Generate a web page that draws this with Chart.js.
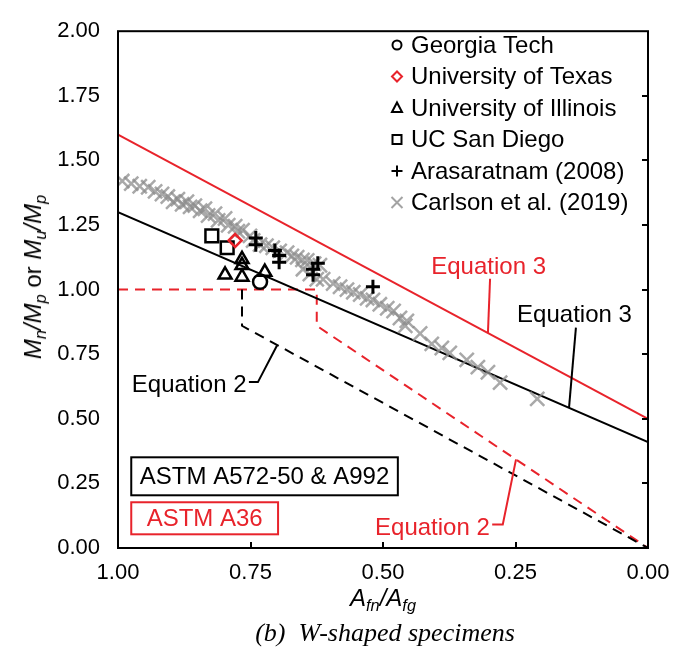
<!DOCTYPE html>
<html>
<head>
<meta charset="utf-8">
<script src="https://cdn.jsdelivr.net/npm/chart.js@4/dist/chart.umd.min.js"></script>
<style>
  html, body { margin: 0; padding: 0; background: #fff; }
  #wrap { position: relative; width: 688px; height: 658px; font-family: "Liberation Sans", Arial, sans-serif; color: #000; }
  #chart { position: absolute; left: 0; top: 0; }
  .ytitle { position: absolute; left: 33px; top: 277px; transform: translate(-50%, -50%) rotate(-90deg); font-size: 24px; white-space: nowrap; }
  .xtitle { position: absolute; left: 383px; top: 598px; transform: translate(-50%, -50%); font-size: 24px; white-space: nowrap; }
  .caption { position: absolute; left: 385px; top: 633px; transform: translate(-50%, -50%); font-family: "Liberation Serif", "Times New Roman", serif; font-style: italic; font-size: 26px; white-space: nowrap; }
  sub { font-size: 68%; vertical-align: -0.28em; line-height: 0; }
</style>
</head>
<body>
<div id="wrap">
  <canvas id="chart" width="688" height="658"></canvas>
  <div class="ytitle"><i>M<sub>n</sub>/M<sub>p</sub></i> or <i>M<sub>u</sub>/M<sub>p</sub></i></div>
  <div class="xtitle"><i>A<sub>fn</sub>/A<sub>fg</sub></i></div>
  <div class="caption">(b)&nbsp; W-shaped specimens</div>
</div>
<script>
const RED = "#e8232b";
const GRAY = "rgba(140,140,140,0.75)";

// axis ticks
const xTicks = [0, 0.25, 0.5, 0.75, 1];
const yTicks = [0, 0.25, 0.5, 0.75, 1, 1.25, 1.5, 1.75, 2];

// test data (x = Afn/Afg, y = Mn/Mp or Mu/Mp)
const georgiaX = [0.732];
const georgiaY = [1.03];
const texasX = [0.779];
const texasY = [1.19];
const illinoisX = [0.798, 0.766, 0.766, 0.766, 0.723];
const illinoisY = [1.057, 1.117, 1.094, 1.049, 1.068];
const ucsdX = [0.823, 0.794];
const ucsdY = [1.208, 1.162];
const arasX = [0.740, 0.740, 0.704, 0.696, 0.696, 0.623, 0.632, 0.632, 0.519];
const arasY = [1.20, 1.174, 1.151, 1.132, 1.106, 1.102, 1.079, 1.057, 1.011];
const carlsonX = [0.992, 0.975, 0.959, 0.943, 0.930, 0.917, 0.906, 0.896, 0.887, 0.879,
  0.870, 0.864, 0.855, 0.845, 0.836, 0.830, 0.817, 0.811, 0.798, 0.792,
  0.779, 0.774, 0.765, 0.751, 0.745, 0.732, 0.720, 0.708, 0.695, 0.681,
  0.672, 0.662, 0.652, 0.643, 0.630, 0.619, 0.651, 0.638, 0.625, 0.613,
  0.594, 0.581, 0.568, 0.556, 0.543, 0.530, 0.519, 0.506, 0.492, 0.480,
  0.468, 0.455, 0.458, 0.430, 0.408, 0.389, 0.374, 0.342, 0.321, 0.302,
  0.279, 0.209];
const carlsonY = [1.42, 1.41, 1.40, 1.396, 1.38, 1.37, 1.36, 1.34, 1.35, 1.33,
  1.34, 1.32, 1.325, 1.305, 1.313, 1.287, 1.294, 1.268, 1.275, 1.249,
  1.245, 1.226, 1.23, 1.208, 1.19, 1.174, 1.17, 1.162, 1.15, 1.143,
  1.13, 1.125, 1.115, 1.113, 1.10, 1.094, 1.079, 1.06, 1.04, 1.04,
  1.023, 1.011, 1.0, 0.99, 0.981, 0.966, 0.96, 0.943, 0.928, 0.917,
  0.89, 0.879, 0.86, 0.83, 0.79, 0.774, 0.755, 0.728, 0.70, 0.68,
  0.64, 0.577];

// design equations
const eq3BlackX = [1, 0];
const eq3BlackY = [1.30, 0.41];
const eq3RedX = [1, 0];
const eq3RedY = [1.60, 0.50];
const eq2BlackX = [0.766, 0.766, 0];
const eq2BlackY = [1.00, 0.86, 0];
const eq2RedX = [1, 0.625, 0.625, 0];
const eq2RedY = [1.00, 1.00, 0.86, 0];

const legendNames = ["Georgia Tech", "University of Texas", "University of Illinois",
  "UC San Diego", "Arasaratnam (2008)", "Carlson et al. (2019)"];

function pts(xs, ys) {
  return xs.map((x, i) => ({ x, y: ys[i] }));
}

function lineSet(xs, ys, color, dashed) {
  return {
    type: "line", data: pts(xs, ys), borderColor: color, borderWidth: 2,
    borderDash: dashed ? [10, 7] : [], pointRadius: 0, fill: false, tension: 0, order: 10,
  };
}

function markerSet(label, xs, ys, style, color, radius, width, order) {
  return {
    label, data: pts(xs, ys), pointStyle: style, pointRadius: radius,
    borderColor: color, backgroundColor: "rgba(0,0,0,0)", pointBorderWidth: width,
    borderWidth: width, order,
  };
}

// simple marker drawer for the hand-made legend
function drawMarker(ctx, kind, x, y, color) {
  ctx.save();
  ctx.strokeStyle = color;
  ctx.lineWidth = 2;
  ctx.beginPath();
  if (kind === "circle") ctx.arc(x, y, 4.5, 0, Math.PI * 2);
  if (kind === "diamond") { ctx.moveTo(x - 5, y); ctx.lineTo(x, y - 5); ctx.lineTo(x + 5, y); ctx.lineTo(x, y + 5); ctx.closePath(); }
  if (kind === "triangle") { ctx.moveTo(x, y - 5.5); ctx.lineTo(x + 5, y + 4); ctx.lineTo(x - 5, y + 4); ctx.closePath(); }
  if (kind === "square") ctx.rect(x - 4.5, y - 4.5, 9, 9);
  if (kind === "plus") { ctx.moveTo(x - 5.5, y); ctx.lineTo(x + 5.5, y); ctx.moveTo(x, y - 5.5); ctx.lineTo(x, y + 5.5); }
  if (kind === "cross") { ctx.moveTo(x - 5.5, y - 5.5); ctx.lineTo(x + 5.5, y + 5.5); ctx.moveTo(x + 5.5, y - 5.5); ctx.lineTo(x - 5.5, y + 5.5); }
  ctx.stroke();
  ctx.restore();
}

const legendPlugin = {
  id: "legendBox",
  afterDraw(chart) {
    const ctx = chart.ctx;
    const kinds = ["circle", "diamond", "triangle", "square", "plus", "cross"];
    const colors = ["#000", RED, "#000", "#000", "#000", "#a3a3a3"];
    ctx.save();
    ctx.font = '24px "Liberation Sans", Arial, sans-serif';
    ctx.fillStyle = "#000";
    ctx.textBaseline = "middle";
    legendNames.forEach((name, i) => {
      const y = 45 + i * 31.5;
      drawMarker(ctx, kinds[i], 397, y, colors[i]);
      ctx.fillText(name, 411, y + 1);
    });
    ctx.restore();
  },
};

// frame and inward tick marks
const framePlugin = {
  id: "frame",
  afterDatasetsDraw(chart) {
    const { ctx, chartArea: a, scales: { x, y } } = chart;
    ctx.save();
    ctx.strokeStyle = "#000";
    ctx.lineWidth = 2;
    ctx.strokeRect(a.left, a.top, a.right - a.left, a.bottom - a.top);
    ctx.beginPath();
    xTicks.slice(1, -1).forEach(v => {
      const px = Math.round(x.getPixelForValue(v));
      ctx.moveTo(px, a.bottom); ctx.lineTo(px, a.bottom - 6);
    });
    yTicks.slice(1, -1).forEach(v => {
      const py = Math.round(y.getPixelForValue(v));
      ctx.moveTo(a.right, py); ctx.lineTo(a.right - 6, py);
    });
    ctx.stroke();
    ctx.restore();
  },
};

// equation labels, leader lines and material boxes
const notesPlugin = {
  id: "notes",
  afterDatasetsDraw(chart) {
    const { ctx, scales: { x, y } } = chart;
    const P = (vx, vy) => [x.getPixelForValue(vx), y.getPixelForValue(vy)];
    const leader = (color, points) => {
      ctx.strokeStyle = color; ctx.lineWidth = 2; ctx.setLineDash([]);
      ctx.beginPath();
      points.forEach(([vx, vy], i) => {
        const [px, py] = P(vx, vy);
        i ? ctx.lineTo(px, py) : ctx.moveTo(px, py);
      });
      ctx.stroke();
    };
    const text = (str, color, vx, vy) => {
      const [px, py] = P(vx, vy);
      ctx.fillStyle = color;
      ctx.fillText(str, px, py);
    };
    ctx.save();
    ctx.font = '24px "Liberation Sans", Arial, sans-serif';
    ctx.textAlign = "left";
    ctx.textBaseline = "alphabetic";

    text("Equation 3", RED, 0.409, 1.06);
    leader(RED, [[0.298, 1.042], [0.302, 0.832]]);
    text("Equation 3", "#000", 0.247, 0.875);
    leader("#000", [[0.136, 0.853], [0.149, 0.543]]);
    text("Equation 2", "#000", 0.974, 0.604);
    leader("#000", [[0.753, 0.642], [0.736, 0.642], [0.70, 0.784]]);
    text("Equation 2", RED, 0.515, 0.049);
    leader(RED, [[0.294, 0.091], [0.274, 0.091], [0.249, 0.343]]);

    // material boxes
    const box = (str, color, x0, y0, x1, y1) => {
      const [l, t] = P(x0, y0);
      const [r, b] = P(x1, y1);
      ctx.fillStyle = "#fff";
      ctx.fillRect(l, t, r - l, b - t);
      ctx.strokeStyle = color; ctx.lineWidth = 2;
      ctx.strokeRect(l, t, r - l, b - t);
      ctx.fillStyle = color;
      ctx.textAlign = "center";
      ctx.textBaseline = "middle";
      ctx.fillText(str, (l + r) / 2, (t + b) / 2 + 1);
    };
    box("ASTM A572-50 & A992", "#000", 0.975, 0.351, 0.472, 0.204);
    box("ASTM A36", RED, 0.975, 0.177, 0.698, 0.053);
    ctx.restore();
  },
};

const tickFont = { family: '"Liberation Sans", Arial, sans-serif', size: 22 };

new Chart(document.getElementById("chart"), {
  type: "scatter",
  data: {
    datasets: [
      markerSet(legendNames[0], georgiaX, georgiaY, "circle", "#000", 7, 2.5, 1),
      markerSet(legendNames[1], texasX, texasY, "rectRot", RED, 6.5, 2.5, 2),
      markerSet(legendNames[2], illinoisX, illinoisY, "triangle", "#000", 7.5, 2.5, 3),
      markerSet(legendNames[3], ucsdX, ucsdY, "rect", "#000", 9, 2.5, 4),
      markerSet(legendNames[4], arasX, arasY, "cross", "#000", 7, 3, 5),
      markerSet(legendNames[5], carlsonX, carlsonY, "crossRot", GRAY, 10, 2.5, 6),
      lineSet(eq3RedX, eq3RedY, RED, false),
      lineSet(eq3BlackX, eq3BlackY, "#000", false),
      lineSet(eq2BlackX, eq2BlackY, "#000", true),
      lineSet(eq2RedX, eq2RedY, RED, true),
    ],
  },
  options: {
    responsive: false,
    animation: false,
    layout: { padding: { top: 18, right: 40, left: 0, bottom: 0 } },
    plugins: { legend: { display: false }, tooltip: { enabled: false } },
    scales: {
      x: {
        type: "linear", min: 0, max: 1, reverse: true,
        afterFit: s => { s.height = 110; },
        afterBuildTicks: s => { s.ticks = xTicks.map(v => ({ value: v })); },
        grid: { display: false, drawTicks: false },
        border: { display: false },
        ticks: { color: "#000", font: tickFont, padding: 12, callback: v => v.toFixed(2) },
      },
      y: {
        type: "linear", min: 0, max: 2,
        afterFit: s => { s.width = 118; },
        afterBuildTicks: s => { s.ticks = yTicks.map(v => ({ value: v })); },
        grid: { display: false, drawTicks: false },
        border: { display: false },
        ticks: { color: "#000", font: tickFont, padding: 18, callback: v => v.toFixed(2) },
      },
    },
  },
  plugins: [framePlugin, notesPlugin, legendPlugin],
});
</script>
</body>
</html>
